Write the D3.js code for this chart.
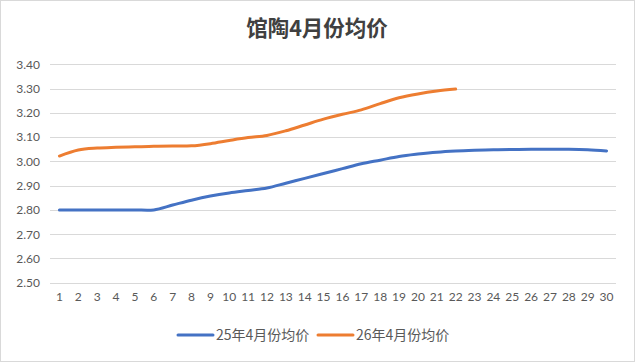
<!DOCTYPE html>
<html>
<head>
<meta charset="utf-8">
<script src="https://cdn.jsdelivr.net/npm/d3@7"></script>
<style>
  body { margin: 0; background: #fff; }
  svg { display: block; }
</style>
</head>
<body>
<div id="chart"></div>
<script>
// data
var days = d3.range(1, 31);
var price25 = [2.80, 2.80, 2.80, 2.80, 2.80, 2.80, 2.82, 2.84, 2.857, 2.87,
               2.88, 2.89, 2.91, 2.93, 2.95, 2.97, 2.99, 3.005, 3.02, 3.03,
               3.038, 3.043, 3.046, 3.048, 3.049, 3.05, 3.05, 3.05, 3.048, 3.043];
var price26 = [3.022, 3.047, 3.055, 3.058, 3.06, 3.062, 3.063, 3.064, 3.073, 3.086,
               3.098, 3.107, 3.126, 3.15, 3.174, 3.194, 3.212, 3.238, 3.262, 3.278,
               3.29, 3.298];
var yTicks = [2.5, 2.6, 2.7, 2.8, 2.9, 3.0, 3.1, 3.2, 3.3, 3.4];
var seriesNames = ['25年4月份均价', '26年4月份均价'];
var colors = ['#4472C4', '#ED7D31'];

var W = 635, H = 362;
var svg = d3.select('#chart').append('svg')
    .attr('width', W)
    .attr('height', H);

svg.append('rect')
    .attr('x', 0.5).attr('y', 0.5)
    .attr('width', W - 1).attr('height', H - 1)
    .style('fill', '#fff')
    .style('stroke', '#d9d9d9');

svg.append('text')
    .attr('x', 317).attr('y', 36)
    .attr('text-anchor', 'middle')
    .style('font-family', '"Noto Sans CJK SC", sans-serif')
    .style('font-size', '21.5px')
    .style('font-weight', 'bold')
    .style('fill', '#404040')
    .text('馆陶4月份均价');

var x = d3.scaleBand().domain(days).range([50, 616]);
var y = d3.scaleLinear().domain([2.5, 3.4]).range([282.7, 64.3]);

// gridlines
svg.append('g').selectAll('line')
    .data(yTicks)
    .join('line')
    .attr('x1', 50).attr('x2', 616)
    .attr('y1', d => Math.round(y(d)) + 0.5)
    .attr('y2', d => Math.round(y(d)) + 0.5)
    .style('stroke', '#d9d9d9')
    .style('stroke-width', '1px');

var labelFont = 'Lato, "Liberation Sans", sans-serif';

// y axis labels
var yAxis = svg.append('g')
    .attr('transform', 'translate(40,0)')
    .call(d3.axisLeft(y).tickValues(yTicks).tickFormat(d3.format('.2f')).tickSize(0).tickPadding(0));
yAxis.select('.domain').remove();
yAxis.selectAll('text')
    .style('font-family', labelFont)
    .style('font-size', '12px')
    .style('fill', '#595959');

// x axis labels
var xAxis = svg.append('g')
    .attr('transform', 'translate(0,292)')
    .call(d3.axisBottom(x).tickSize(0).tickPadding(0));
xAxis.select('.domain').remove();
xAxis.selectAll('text')
    .style('font-family', labelFont)
    .style('font-size', '12px')
    .style('fill', '#595959');

var line = d3.line()
    .x((d, i) => x(days[i]) + x.bandwidth() / 2)
    .y(d => y(d))
    .curve(d3.curveCatmullRom.alpha(0.5));

[price25, price26].forEach(function (vals, k) {
    svg.append('path')
        .datum(vals)
        .attr('d', line)
        .style('fill', 'none')
        .style('stroke', colors[k])
        .style('stroke-width', '3px')
        .style('stroke-linecap', 'round');
});

// legend
var legend = svg.append('g');
var legendX = [178, 318];
seriesNames.forEach(function (name, k) {
    legend.append('line')
        .attr('x1', legendX[k]).attr('x2', legendX[k] + 35)
        .attr('y1', 335).attr('y2', 335)
        .style('stroke', colors[k])
        .style('stroke-width', '3px')
        .style('stroke-linecap', 'round');
    legend.append('text')
        .attr('x', legendX[k] + 38).attr('y', 340)
        .style('font-family', '"Noto Sans CJK SC", sans-serif')
        .style('font-size', '14px')
        .style('fill', '#595959')
        .text(name);
});
</script>
</body>
</html>
